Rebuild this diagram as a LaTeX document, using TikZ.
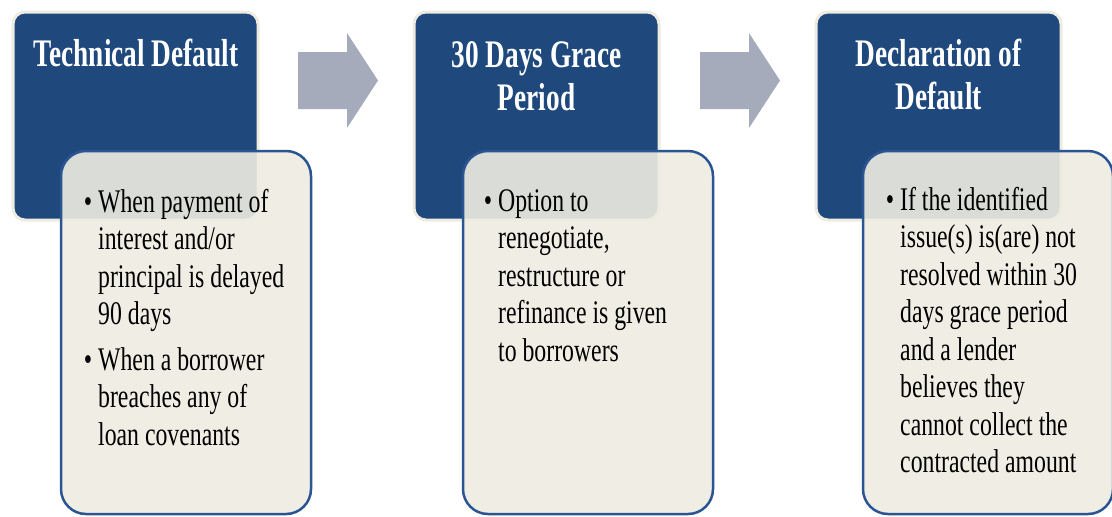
\documentclass[tikz,border=0pt]{standalone}
\usepackage{fontspec}
\setmainfont{Liberation Serif}[FakeStretch=0.7]
\newfontfamily\bodyfont{Liberation Serif}[FakeStretch=0.72]
\usetikzlibrary{positioning}
\definecolor{stageblue}{HTML}{1F497D}
\definecolor{stagecream}{HTML}{EEECE1}
\definecolor{detailedge}{HTML}{2B5592}
\definecolor{flowgray}{HTML}{A5ABBA}
\tikzset{
  stage/.style={rectangle,draw=stagecream,line width=3pt,fill=stageblue,
    rounded corners=12pt,minimum width=245pt,minimum height=208pt,inner sep=0pt},
  detail/.style={rectangle,draw=detailedge,line width=2.5pt,fill=stagecream,
    fill opacity=0.9,draw opacity=1,rounded corners=25pt,minimum width=250pt,
    minimum height=363pt,inner sep=0pt},
  stagetitle/.style={text=white,font=\bfseries\fontsize{39}{43}\selectfont,
    align=center,inner sep=0pt,anchor=north},
  detailtext/.style={text=black,font=\bodyfont\fontsize{33}{37.5}\selectfont,
    align=left,inner sep=0pt,anchor=north west},
  flow/.style={fill=flowgray,draw=none}
}
\newcommand{\bul}{\llap{\textbullet\hspace{6pt}}}
\begin{document}
\begin{tikzpicture}[x=1pt,y=-1pt]
  \useasboundingbox (0,0) rectangle (1112,517);

  % stages
  \node[stage] at (135.5,116) (tech) {};
  \node[stage] at (536.5,116) (grace) {};
  \node[stage] at (938.5,116) (decl) {};

  \node[stagetitle] at (136,39) (techtitle) {Technical Default};
  \node[stagetitle] at (536.5,41) (gracetitle) {30 Days Grace\\Period};
  \node[stagetitle] at (938.5,39) (decltitle) {Declaration of\\Default};

  % details
  \node[detail] at (186,332.5) (techbox) {};
  \node[detail] at (588,332.5) (gracebox) {};
  \node[detail] at (988,332.5) (declbox) {};

  \node[detailtext] at (98,189) (techtext) {\bul When payment of\\interest and/or\\principal is delayed\\90 days\\[8pt]
    \bul When a borrower\\breaches any of\\loan covenants};
  \node[detailtext] at (498,189) (gracetext) {\bul Option to\\renegotiate,\\restructure or\\refinance is given\\to borrowers};
  \node[detailtext] at (900,187) (decltext) {\bul If the identified\\issue(s) is(are) not\\resolved within 30\\days grace period\\and a lender\\believes they\\cannot collect the\\contracted amount};

  % arrows
  \foreach \ax in {298,700}
    \fill[flow] (\ax,52) -- ++(49,0) -- ++(0,-19) -- ++(31,47.5) -- ++(-31,47.5)
      -- ++(0,-19) -- ++(-49,0) -- cycle;
\end{tikzpicture}
\end{document}
